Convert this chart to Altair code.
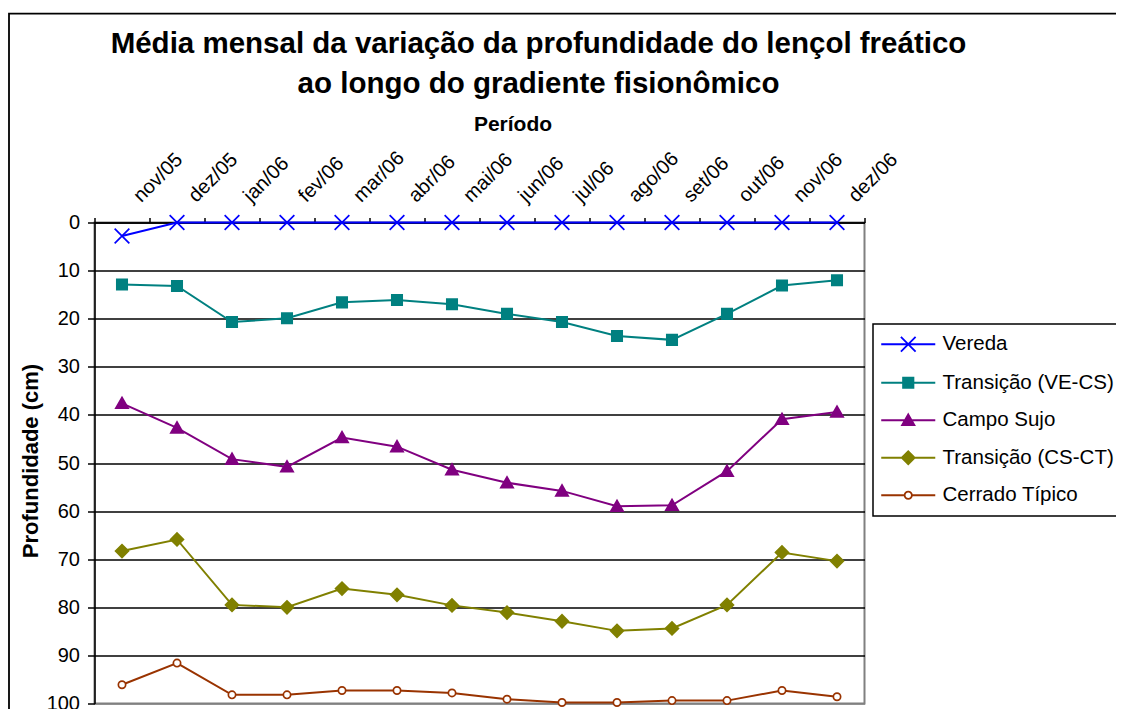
import json
import altair as alt
import pandas as pd

# ---------------- data ----------------
titulo = ["Média mensal da variação da profundidade do lençol freático",
          "ao longo do gradiente fisionômico"]
meses = ["nov/05", "dez/05", "jan/06", "fev/06", "mar/06", "abr/06", "mai/06",
         "jun/06", "jul/06", "ago/06", "set/06", "out/06", "nov/06", "dez/06"]
series = ["Vereda", "Transição (VE-CS)", "Campo Sujo", "Transição (CS-CT)", "Cerrado Típico"]

vereda = [2.8, 0, 0, 0, 0, 0, 0, 0, 0, 0, 0, 0, 0, 0]
ve_cs = [12.9, 13.2, 20.7, 19.9, 16.6, 16.1, 17.0, 19.0, 20.7, 23.6, 24.4, 19.0, 13.1, 12.0]
campo_sujo = [37.6, 42.7, 49.2, 50.8, 44.7, 46.6, 51.4, 54.1, 55.8, 59.0, 58.8, 51.7, 40.9, 39.4]
cs_ct = [68.3, 65.9, 79.5, 80.0, 76.1, 77.4, 79.6, 81.1, 82.9, 84.9, 84.4, 79.5, 68.6, 70.4]
cerrado = [96.1, 91.6, 98.2, 98.2, 97.3, 97.3, 97.8, 99.1, 99.8, 99.8, 99.4, 99.4, 97.3, 98.6]

y_ticks = [0, 10, 20, 30, 40, 50, 60, 70, 80, 90, 100]

# ---------------- styles ----------------
cores = ["#0000FF", "#008080", "#800080", "#808000", "#993300"]
preench = ["#0000FF", "#008080", "#800080", "#808000", "#FFFFFF"]
FONT = "Liberation Sans"

mk_x = "M-1.05,-1.05L1.05,1.05M-1.05,1.05L1.05,-1.05"
mk_sq = "M-0.74,-0.74H0.74V0.74H-0.74Z"
mk_tri = "M0,-0.84L0.88,0.7L-0.88,0.7Z"
mk_dia = "M-0.92,0L0,-0.92L0.92,0L0,0.92Z"
mk_circ = "M-0.52,0A0.52,0.52 0 1,0 0.52,0A0.52,0.52 0 1,0 -0.52,0Z"
marcadores = [mk_x, mk_sq, mk_tri, mk_dia, mk_circ]

linha = "M-3.86,0L3.86,0"
leg_paths = [linha + mk_x, linha + mk_sq, linha + mk_tri, linha + mk_dia,
             "M-3.86,0L-0.52,0M0.52,0L3.86,0" + mk_circ]

# ---------------- table ----------------
valores = [vereda, ve_cs, campo_sujo, cs_ct, cerrado]
rows = []
for s, vals in zip(series, valores):
    for i, (m, v) in enumerate(zip(meses, vals)):
        rows.append({"idx": i, "mes": m, "serie": s, "valor": v})
df = pd.DataFrame(rows)

n = len(meses)
tick_pos = [i - 0.5 for i in range(n + 1)]
label_expr = f"datum.value < {n - 1} ? {json.dumps(meses)}[round(datum.value + 0.5)] : ''"

series_js = json.dumps(series, ensure_ascii=False)
shape_expr = f"{json.dumps(leg_paths)}[indexof({series_js}, datum.value)]"
fill_expr = f"{json.dumps(preench)}[indexof({series_js}, datum.value)]"

x_enc = alt.X(
    "idx:Q",
    scale=alt.Scale(domain=[-0.5, n - 0.5], nice=False, zero=False),
    axis=alt.Axis(
        orient="top", values=tick_pos, labelExpr=label_expr, grid=False,
        labelAngle=-45, labelAlign="left", labelBaseline="middle",
        labelOffset=42, labelPadding=19, labelOverlap=False, labelFlush=False,
        labelFont=FONT, labelFontSize=20, labelColor="black",
        tickSize=5, tickWidth=1.5, tickColor="black",
        domainColor="black", domainWidth=1.5,
        title="Período", titleFont=FONT, titleFontSize=21, titleFontWeight="bold",
        titleColor="black", titleX=418, titleY=-92.5, titleAlign="center",
        titleBaseline="alphabetic", titleAngle=0,
    ),
)

y_enc = alt.Y(
    "valor:Q",
    scale=alt.Scale(domain=[0, 100], reverse=True, nice=False, zero=False),
    axis=alt.Axis(
        values=y_ticks, grid=True,
        gridColor={"condition": {"test": "datum.value === 100", "value": "#808080"}, "value": "black"},
        gridWidth=1.5,
        labelFont=FONT, labelFontSize=20, labelColor="black", labelPadding=8,
        tickSize=7, tickWidth=1.5, tickColor="black",
        domainColor="black", domainWidth=1.5,
        title="Profundidade (cm)", titleFont=FONT, titleFontSize=22, titleFontWeight="bold",
        titleColor="black", titleX=-64.5, titleY=238, titleAngle=270,
        titleAlign="center", titleBaseline="middle",
    ),
)

legenda = alt.Legend(
    title=None, orient="none", legendX=778.5, legendY=101.5, direction="vertical",
    symbolSize=196, symbolStrokeWidth=1.8, symbolOffset=15, labelOffset=24,
    symbolType=alt.ExprRef(expr=shape_expr),
    symbolFillColor=alt.ExprRef(expr=fill_expr),
    symbolOpacity=1,
    labelFont=FONT, labelFontSize=20.5, labelColor="black", labelLimit=500,
    labelExpr="datum.label + '            '",
    rowPadding=16.5, padding=10, strokeColor="black", fillColor="white",
)

base = alt.Chart(df)

lines = base.mark_line(strokeWidth=2).encode(
    x=x_enc, y=y_enc,
    color=alt.Color("serie:N", scale=alt.Scale(domain=series, range=cores), legend=legenda),
)

point_layers = []
for s, path, cor, fill in zip(series, marcadores, cores, preench):
    point_layers.append(
        base.transform_filter(alt.datum.serie == s)
        .mark_point(shape=path, size=196, filled=True, fill=fill, stroke=cor,
                    strokeWidth=1.7, opacity=1)
        .encode(x=x_enc, y=y_enc)
    )

borda = alt.Chart(alt.Data(values=[{}])).mark_rect(
    fill=None, stroke="black", strokeWidth=1.8
).encode(
    x=alt.value(-85.5), x2=alt.value(1300), y=alt.value(-208.8), y2=alt.value(600)
)

def linha_titulo(texto, y):
    return alt.Chart(alt.Data(values=[{"t": texto}])).mark_text(
        font=FONT, fontSize=29.5, fontWeight="bold", color="black",
        align="center", baseline="alphabetic",
    ).encode(text="t:N", x=alt.value(444), y=alt.value(y))

t1 = linha_titulo(titulo[0], -169.2)
t2 = linha_titulo(titulo[1], -129.2)

chart = alt.layer(borda, t1, t2, lines, *point_layers).properties(
    width=770, height=481,
    autosize=alt.AutoSizeParams(type="none"),
    padding={"left": 86.5, "top": 214.5, "right": 251.5, "bottom": 5.5},
    background="white",
).configure_view(stroke="#808080", strokeWidth=2).configure_legend(strokeWidth=1.5)

chart.save("out.html", embed_options={"renderer": "svg", "actions": False})
